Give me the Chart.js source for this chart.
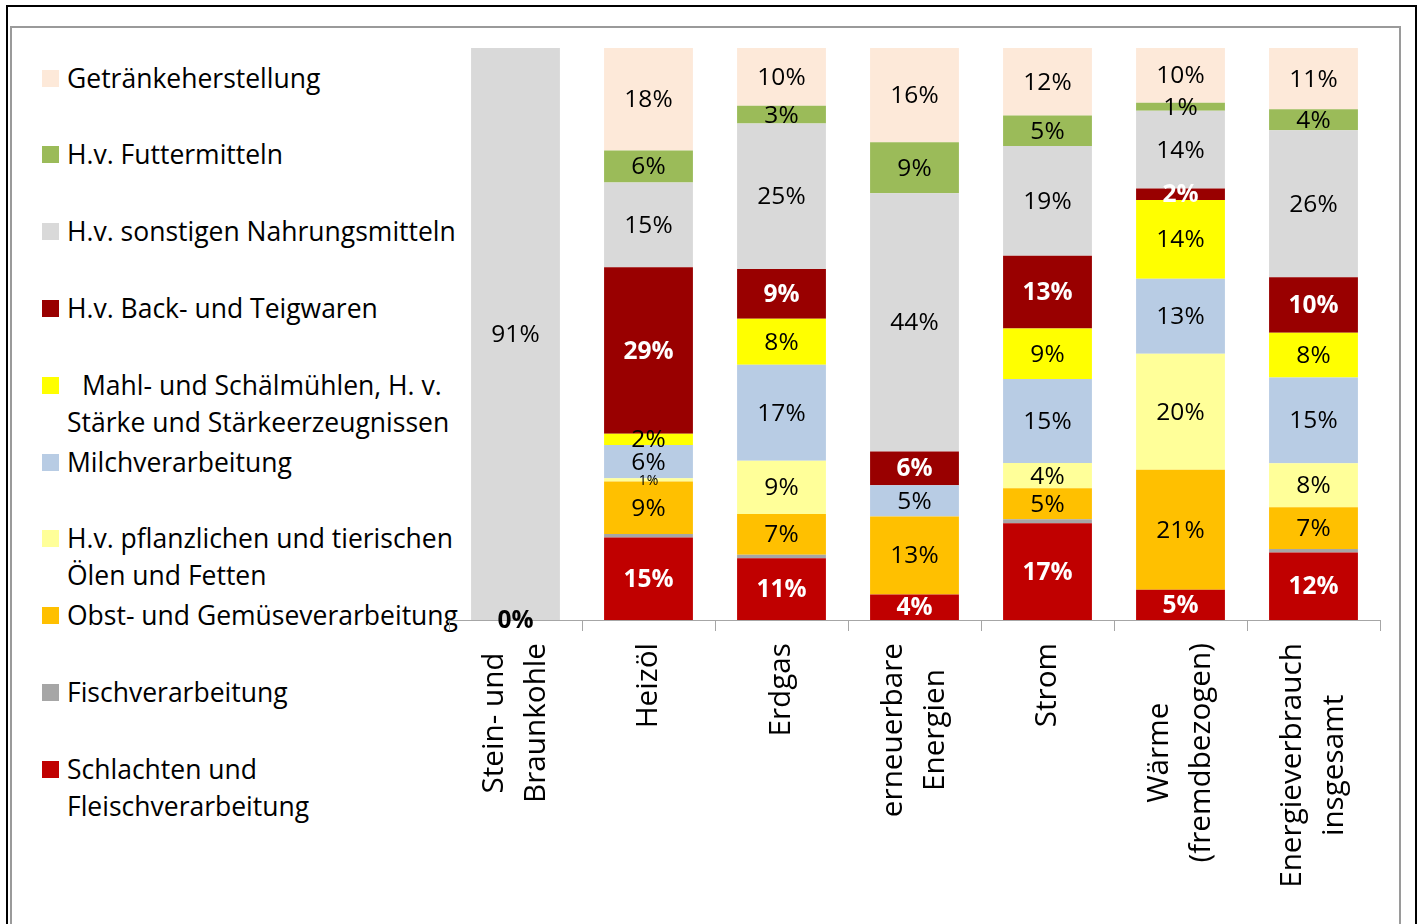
<!DOCTYPE html>
<html>
<head>
<meta charset="utf-8">
<script src="https://cdn.jsdelivr.net/npm/chart.js@4.4.1/dist/chart.umd.min.js"></script>
<style>
  html, body { margin: 0; padding: 0; background: #fff; }
  #page { position: relative; width: 1419px; height: 924px; overflow: hidden; font-family: "Open Sans", sans-serif; }
  .outer { position: absolute; left: 6px; top: 5px; width: 1411px; height: 1000px; border: 2px solid #000; box-sizing: border-box; }
  .inner { position: absolute; left: 10px; top: 26px; width: 1391px; height: 1000px; border: 2px solid #9a9a9a; box-sizing: border-box; }
  #chart { position: absolute; left: 0; top: 0; }
  .item { position: absolute; left: 42px; width: 430px; }
  .item .sw { position: absolute; left: 0; top: 10px; width: 17px; height: 17px; }
  .item .txt { position: absolute; left: 25px; width: 402px; font-size: 26.5px; line-height: 37px; color: #000; white-space: normal; }
</style>
</head>
<body>
<div id="page">
  <div class="outer"></div>
  <div class="inner"></div>
  <div id="legend"></div>
  <canvas id="chart" width="1419" height="924"></canvas>
</div>
<script>
// categories (energy carriers), lines of the rotated axis labels
const categories = [
  ['Stein- und', 'Braunkohle'],
  ['Heizöl'],
  ['Erdgas'],
  ['erneuerbare', 'Energien'],
  ['Strom'],
  ['Wärme', '(fremdbezogen)'],
  ['Energieverbrauch', 'insgesamt']
];

// share per branch in %, bottom to top
const schlachten = [0, 14.5, 10.8, 4.4, 16.9, 5.3, 11.8];
const fisch      = [null, 0.6, 0.6, null, 0.7, null, 0.6];
const obst       = [null, 9.2, 7.1, 13.4, 5.4, 21.0, 7.3];
const pflanzlich = [null, 0.6, 9.3, null, 4.4, 20.3, 7.7];
const milch      = [null, 5.8, 16.8, 5.4, 14.7, 13.1, 15.0];
const mahl       = [null, 2.0, 8.0, null, 8.8, 13.8, 7.8];
const back       = [null, 29.2, 8.7, 5.8, 12.7, 2.0, 9.7];
const sonstige   = [91, 14.9, 25.4, 44.4, 19.2, 13.6, 25.7];
const futter     = [null, 5.6, 3.1, 8.8, 5.3, 1.4, 3.7];
const getraenke  = [null, 18.0, 10.1, 16.2, 11.8, 9.6, 10.7];

const series = [
  { name: 'Schlachten und Fleischverarbeitung', values: schlachten, color: '#C00000', labelColor: '#fff', bold: true },
  { name: 'Fischverarbeitung', values: fisch, color: '#A6A6A6', noLabels: true },
  { name: 'Obst- und Gemüseverarbeitung', values: obst, color: '#FFC000' },
  { name: 'H.v. pflanzlichen und tierischen Ölen und Fetten', values: pflanzlich, color: '#FFFF99' },
  { name: 'Milchverarbeitung', values: milch, color: '#B8CCE4' },
  { name: ' Mahl- und Schälmühlen, H. v. Stärke und Stärkeerzeugnissen', values: mahl, color: '#FFFF00' },
  { name: 'H.v. Back- und Teigwaren', values: back, color: '#990000', labelColor: '#fff', bold: true },
  { name: 'H.v. sonstigen Nahrungsmitteln', values: sonstige, color: '#D9D9D9' },
  { name: 'H.v. Futtermitteln', values: futter, color: '#9BBB59' },
  { name: 'Getränkeherstellung', values: getraenke, color: '#FDE9D9' }
];

// 100% stacked: every column is scaled to its own total
const totals = categories.map((c, i) =>
  series.reduce((s, d) => s + (d.values[i] == null ? 0 : d.values[i]), 0));

// legend on the left, top item = top of the stack
const legend = document.getElementById('legend');
series.slice().reverse().forEach((s, i) => {
  const item = document.createElement('div');
  item.className = 'item';
  item.style.top = (78 + i * 76.8 - 18.5) + 'px';
  const sw = document.createElement('div');
  sw.className = 'sw';
  sw.style.background = s.color;
  const txt = document.createElement('div');
  txt.className = 'txt';
  if (s.name.startsWith(' ')) txt.style.textIndent = '15px';
  txt.textContent = s.name.trim();
  item.appendChild(sw);
  item.appendChild(txt);
  legend.appendChild(item);
});

const barLabels = {
  id: 'barLabels',
  afterDatasetsDraw(chart) {
    const ctx = chart.ctx;
    ctx.save();
    ctx.textAlign = 'center';
    ctx.textBaseline = 'middle';
    chart.data.datasets.forEach((ds, di) => {
      if (ds.noLabels) return;
      chart.getDatasetMeta(di).data.forEach((bar, i) => {
        const v = ds.rawValues[i];
        if (v == null) return;
        const small = v > 0 && v < 1;
        ctx.font = (ds.bold ? 'bold ' : '') + (small ? '14px' : '24.5px') + ' "Open Sans", sans-serif';
        ctx.fillStyle = v === 0 ? '#000' : ds.labelColor;
        ctx.fillText(Math.round(v) + '%', bar.x, (bar.y + bar.base) / 2 + 1);
      });
    });
    ctx.restore();
  }
};

const categoryLabels = {
  id: 'categoryLabels',
  afterDraw(chart) {
    const ctx = chart.ctx;
    const xs = chart.scales.x;
    const lh = 42, top = 643;
    ctx.save();
    ctx.font = '29.7px "Open Sans", sans-serif';
    ctx.fillStyle = '#000';
    ctx.textAlign = 'center';
    ctx.textBaseline = 'middle';
    categories.forEach((lines, i) => {
      const cx = xs.getPixelForValue(i);
      const maxW = Math.max(...lines.map(l => ctx.measureText(l).width));
      lines.forEach((line, j) => {
        ctx.save();
        ctx.translate(cx + (j - (lines.length - 1) / 2) * lh, top + maxW / 2);
        ctx.rotate(-Math.PI / 2);
        ctx.fillText(line, 0, 0);
        ctx.restore();
      });
    });
    ctx.restore();
  }
};

new Chart(document.getElementById('chart'), {
  type: 'bar',
  data: {
    labels: categories.map(c => c.join(' ')),
    datasets: series.map(s => ({
      label: s.name.trim(),
      data: s.values.map((v, i) => v == null ? null : v / totals[i] * 100),
      rawValues: s.values,
      backgroundColor: s.color,
      borderWidth: 0,
      labelColor: s.labelColor || '#000',
      bold: !!s.bold,
      noLabels: !!s.noLabels,
      categoryPercentage: 1,
      barPercentage: 0.668
    }))
  },
  options: {
    responsive: false,
    animation: false,
    events: [],
    layout: { padding: { left: 449, right: 39, top: 48, bottom: 0 } },
    plugins: { legend: { display: false }, tooltip: { enabled: false } },
    scales: {
      x: {
        stacked: true,
        grid: { offset: true, drawOnChartArea: false, drawTicks: true, tickLength: 11, color: '#A6A6A6' },
        border: { display: true, color: '#A6A6A6', width: 1 },
        ticks: { display: false },
        afterFit(scale) { scale.height = 304; }
      },
      y: { stacked: true, display: false, min: 0, max: 100 }
    }
  },
  plugins: [barLabels, categoryLabels]
});
</script>
</body>
</html>
